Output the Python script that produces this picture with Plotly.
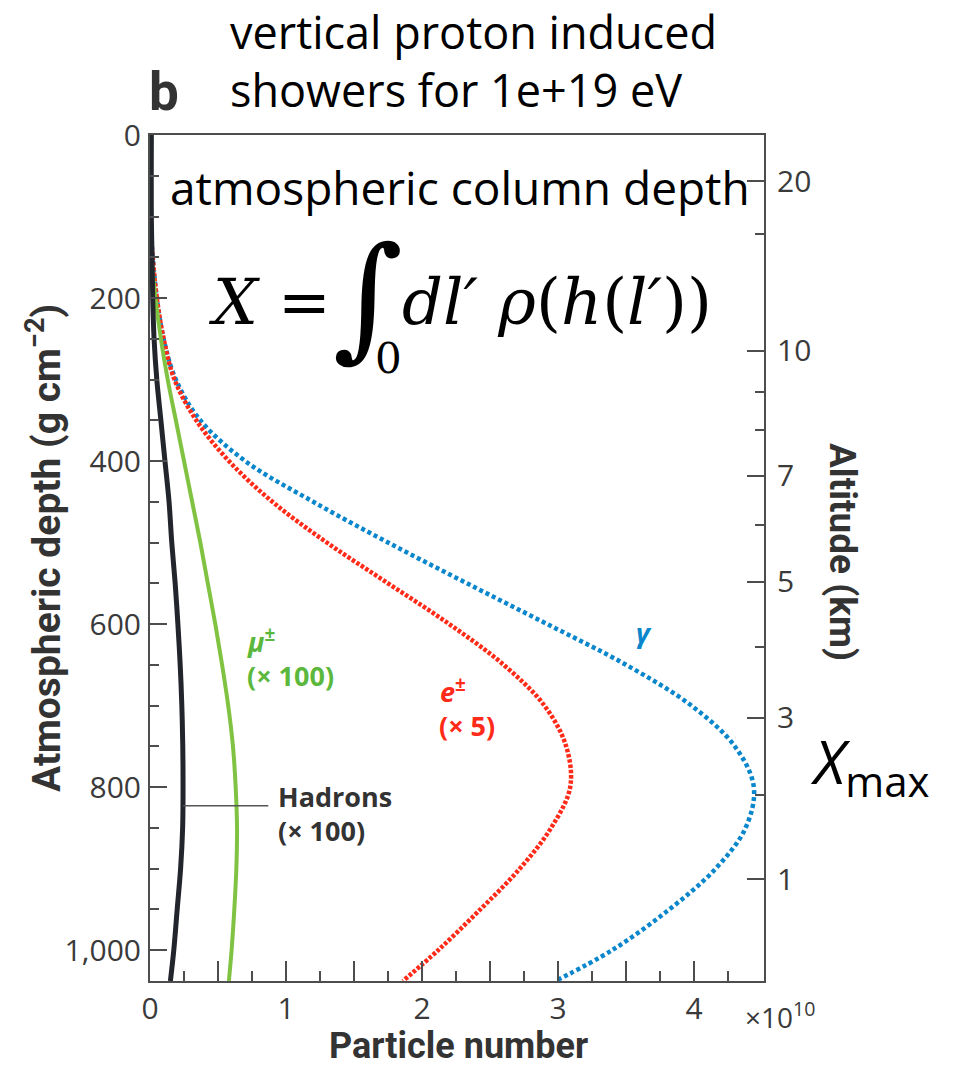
import plotly.graph_objects as go

# Atmospheric depth grid (g cm^-2) shared by all profiles
depth = [0, 100, 150, 200, 250, 300, 350, 400, 450, 500, 550, 600,
         650, 700, 750, 800, 850, 900, 950, 1000, 1038]

# Particle numbers in units of 1e10 (already multiplied by the quoted factors)
gamma_n = [0, 0, 0.02, 0.05, 0.10, 0.19, 0.37, 0.70, 1.20, 1.75, 2.33, 2.92,
           3.50, 3.98, 4.30, 4.44, 4.38, 4.16, 3.82, 3.40, 2.98]
electron_n = [0, 0, 0.02, 0.05, 0.10, 0.18, 0.34, 0.58, 0.90, 1.30, 1.75, 2.20,
              2.60, 2.90, 3.06, 3.09, 2.95, 2.72, 2.43, 2.12, 1.86]
muon_n = [0, 0, 0.01, 0.04, 0.08, 0.13, 0.19, 0.25, 0.31, 0.37, 0.425, 0.48,
          0.53, 0.575, 0.61, 0.63, 0.64, 0.635, 0.62, 0.60, 0.58]
hadron_n = [0.01, 0.01, 0.015, 0.02, 0.03, 0.05, 0.08, 0.11, 0.14, 0.16, 0.185, 0.205,
            0.222, 0.234, 0.241, 0.243, 0.24, 0.225, 0.20, 0.175, 0.15]

# Altitude scale (km) and the matching atmospheric depth
alt_major = [20, 10, 7, 5, 3, 1]
alt_major_depth = [57, 265, 418, 548, 715, 913]
alt_minor = [15, 9, 8, 6, 4, 2]
alt_minor_depth = [122, 315, 362, 479, 628, 810]

depth_ticks = [0, 200, 400, 600, 800, 1000]
number_ticks = [0, 1, 2, 3, 4]

X_MAX = 4.515
DEPTH_MAX = 1038

AXIS = "#4d4d4d"
LABEL = "#3a3a3a"
BLUE = "#0a86cc"
RED = "#ff2a17"
GREEN = "#80c342"
BLACK = "#22252b"

# plot area in pixels
L, R, T, B = 150, 764, 135, 981
W, H = 955, 1068


def px(x):
    return (x - L) / (R - L)


def py(y):
    return (B - y) / (B - T)


fig = go.Figure()

fig.add_trace(go.Scatter(x=gamma_n, y=depth, mode="lines", line_shape="spline",
                         line=dict(color=BLUE, width=4.5, dash="4px,3px"), hoverinfo="skip"))
fig.add_trace(go.Scatter(x=electron_n, y=depth, mode="lines", line_shape="spline",
                         line=dict(color=RED, width=4.5, dash="3.5px,1.8px"), hoverinfo="skip"))
fig.add_trace(go.Scatter(x=muon_n, y=depth, mode="lines", line_shape="spline",
                         line=dict(color=GREEN, width=4), hoverinfo="skip"))
fig.add_trace(go.Scatter(x=hadron_n, y=depth, mode="lines", line_shape="spline",
                         line=dict(color=BLACK, width=5), hoverinfo="skip"))
# carrier for the altitude axis
fig.add_trace(go.Scatter(x=hadron_n, y=depth, mode="lines", yaxis="y2",
                         line=dict(color="rgba(0,0,0,0)", width=0), hoverinfo="skip"))

TICK_SIZE = 30
tick_font = dict(family="Open Sans, Noto Sans, sans-serif", size=TICK_SIZE, color=LABEL)

half_ticks = [i * 0.5 for i in range(9)]
fig.update_layout(
    width=W, height=H,
    margin=dict(l=L, r=W - R, t=T, b=H - B),
    plot_bgcolor="white", paper_bgcolor="white",
    showlegend=False,
    font=dict(family="Open Sans, Noto Sans, sans-serif", size=TICK_SIZE, color=LABEL),
    xaxis=dict(
        range=[0, X_MAX], tickmode="array", tickvals=half_ticks,
        ticktext=[str(int(v)) if v in number_ticks else "" for v in half_ticks],
        ticks="inside", ticklen=20, tickwidth=1.6, tickcolor=AXIS,
        showline=True, linecolor=AXIS, linewidth=2, mirror=True,
        showgrid=False, zeroline=False, tickfont=tick_font, ticklabelstandoff=0,
        minor=dict(tickvals=[0.25 + i * 0.5 for i in range(9)], ticks="inside",
                   ticklen=10, tickwidth=1.6, tickcolor=AXIS),
    ),
    yaxis=dict(
        range=[DEPTH_MAX, 0], tickmode="array", tickvals=depth_ticks,
        ticktext=[f"{v:,}" for v in depth_ticks],
        ticks="inside", ticklen=17, tickwidth=1.6, tickcolor=AXIS,
        showline=True, linecolor=AXIS, linewidth=2,
        showgrid=False, zeroline=False, tickfont=tick_font, ticklabelstandoff=1,
        minor=dict(dtick=50, tick0=0, ticks="inside", ticklen=9, tickwidth=1.6, tickcolor=AXIS),
    ),
    yaxis2=dict(
        overlaying="y", side="right", range=[DEPTH_MAX, 0],
        tickmode="array", tickvals=alt_major_depth, ticktext=[str(a) for a in alt_major],
        ticks="inside", ticklen=17, tickwidth=1.6, tickcolor=AXIS,
        showline=True, linecolor=AXIS, linewidth=2,
        showgrid=False, zeroline=False, tickfont=tick_font, ticklabelstandoff=5,
        minor=dict(tickvals=alt_minor_depth, ticks="inside", ticklen=9,
                   tickwidth=1.6, tickcolor=AXIS),
    ),
)

# leader line from the hadron curve to its label
fig.add_shape(type="line", xref="x", yref="y", x0=hadron_n[15], x1=0.87, y0=823, y1=823,
              line=dict(color="#555555", width=1.6))

sans = "Open Sans, Noto Sans, sans-serif"
cond = "Liberation Sans Narrow, Roboto, sans-serif"
serif = "DejaVu Serif, Liberation Serif, serif"


def note(text, x, y, size, color="black", family=sans, xanchor="left", yanchor="middle",
         angle=0, weight="normal", ref="paper"):
    if ref == "paper":
        xx, yy, xr, yr = px(x), py(y), "paper", "paper"
    else:
        xx, yy, xr, yr = x, y, "x", "y"
    fig.add_annotation(text=text, x=xx, y=yy, xref=xr, yref=yr, showarrow=False,
                       xanchor=xanchor, yanchor=yanchor, textangle=angle,
                       font=dict(family=family, size=size, color=color, weight=weight))


# headline
note("vertical proton induced", 228, 31, 45)
note("showers for 1e+19 eV", 228, 89, 45)
note("b", 147, 92, 53, color="#333333", weight="bold", family="Roboto, sans-serif")

# column depth definition
note("atmospheric column depth", 168, 187, 46)
note("<i>X</i> =", 206, 302, 63, family=serif)
note("∫", 368, 296, 135, family="DejaVu Serif, serif", xanchor="center")
note("0", 388, 358, 42, family=serif, xanchor="center")
note("<i>dl′ ρ</i>(<i>h</i>(<i>l′</i>))", 400, 302, 64, family=serif)

note("<i>X</i><sub>max</sub>", 808, 764, 60)

# curve labels (data coordinates)
note("<i>γ</i>", 3.63, 610, 27, color=BLUE, weight="bold", ref="data", xanchor="center")
note("<i>e</i><sup>±</sup>", 2.12, 681, 27, color=RED, weight="bold", ref="data")
note("(× 5)", 2.11, 724, 27, color=RED, weight="bold", ref="data")
note("<i>μ</i><sup>±</sup>", 0.70, 620, 27, color="#5cb83c", weight="bold", ref="data")
note("(× 100)", 0.70, 663, 27, color="#5cb83c", weight="bold", ref="data")
note("Hadrons", 0.93, 812, 27, color="#333333", weight="bold", ref="data")
note("(× 100)", 0.93, 853, 27, color="#333333", weight="bold", ref="data")

# axis titles and multiplier
note("×10<sup>10</sup>", 743, 1015, 28, color=LABEL)
note("Particle number", 458, 1046, 36, color="#333333", weight="bold", family=cond,
     xanchor="center")
note("Atmospheric depth (g cm<sup>−2</sup>)", 44, 548, 39, color="#333333", weight="bold",
     family=cond, xanchor="center", angle=-90)
note("Altitude (km)", 843, 552, 37, color="#333333", weight="bold", family=cond,
     xanchor="center", angle=90)

fig.write_html("out.html")
